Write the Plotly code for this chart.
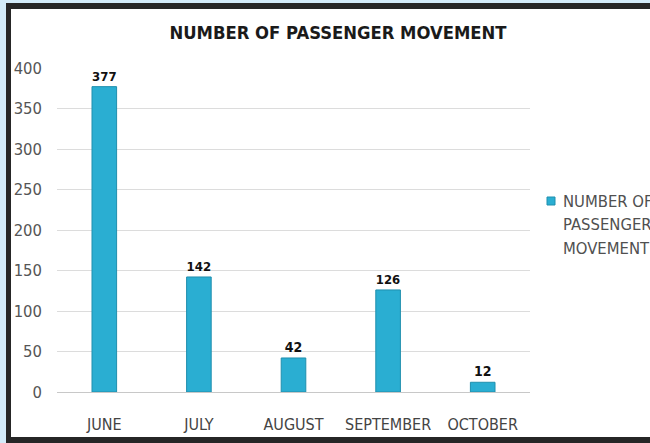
import plotly.graph_objects as go

months = ["JUNE", "JULY", "AUGUST", "SEPTEMBER", "OCTOBER"]
passengers = [377, 142, 42, 126, 12]
y_ticks = [0, 50, 100, 150, 200, 250, 300, 350, 400]
series_label_lines = ["NUMBER OF", "PASSENGER", "MOVEMENT"]
title_text = "NUMBER OF PASSENGER MOVEMENT"

W, H = 650, 443
L, R, T, B = 57, 120, 68, 51
PW, PH = W - L - R, H - T - B

def px(x):
    return (x - L) / PW

def py(y):
    return (H - B - y) / PH

FONT = "DejaVu Sans Condensed"
BAR = "#2aaed2"
FRAME = "#262626"
SKY = "#d3ebf9"

fig = go.Figure()
fig.add_trace(go.Bar(
    x=months, y=passengers, name=title_text,
    width=0.26,
    marker=dict(color=BAR, line=dict(color="#1f8fae", width=1)),
    text=passengers, textposition="outside", cliponaxis=False,
    textfont=dict(family=FONT, size=14, color="#111111", weight="bold"),
    showlegend=False,
))

def frame_rect(x0, x1, y0, y1, color):
    return dict(type="rect", xref="paper", yref="paper", layer="below",
                x0=px(x0), x1=px(x1), y0=py(y1), y1=py(y0),
                fillcolor=color, line=dict(width=0))

shapes = [
    frame_rect(-5, 6, -5, H + 5, SKY),
    frame_rect(-5, W, -5, 3, SKY),
    frame_rect(6, 11, 3, H + 5, FRAME),
    frame_rect(6, W, 3, 9, FRAME),
    frame_rect(6, W, 437, H + 5, FRAME),
    dict(type="rect", xref="paper", yref="paper",
         x0=px(547), x1=px(555), y0=py(205), y1=py(197),
         fillcolor=BAR, line=dict(color="#1f8fae", width=1)),
]

legend_y = [201, 224.5, 248]
annotations = [
    dict(text=t, xref="paper", yref="paper", x=px(561), y=py(yy),
         xanchor="left", yanchor="middle", align="left", showarrow=False,
         font=dict(family=FONT, size=16.5, color="#505050"))
    for t, yy in zip(series_label_lines, legend_y)
]

fig.update_layout(
    width=W, height=H,
    margin=dict(l=L, r=R, t=T, b=B, autoexpand=False),
    paper_bgcolor="#ffffff", plot_bgcolor="rgba(0,0,0,0)",
    shapes=shapes, annotations=annotations,
    title=dict(text=title_text, x=338 / W, xanchor="center", y=1 - 33 / H, yanchor="middle",
               font=dict(family=FONT, size=18.3, color="#1a1a1a", weight="bold")),
    showlegend=False,
    font=dict(family=FONT),
)
fig.update_yaxes(range=[0, 400], tickvals=y_ticks, showgrid=True, gridcolor="#dcdcdc", gridwidth=1,
                 zeroline=False, showline=False, ticks="", ticklabelstandoff=14,
                 tickfont=dict(family=FONT, size=16.5, color="#555555"))
fig.update_xaxes(showline=True, linecolor="#c8c8c8", linewidth=1, ticks="", ticklabelstandoff=18,
                 tickfont=dict(family=FONT, size=16, color="#444444"))

fig.write_html("out.html", config={"displayModeBar": False},
               post_script="document.body.style.margin='0';document.body.style.overflow='hidden';")
